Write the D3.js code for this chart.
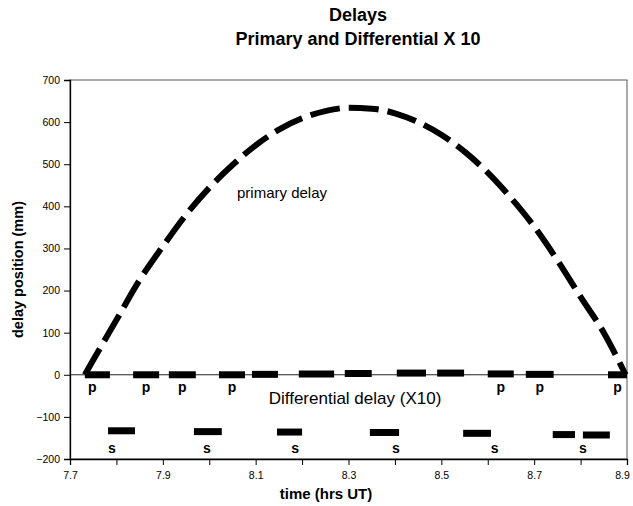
<!DOCTYPE html>
<html>
<head>
<meta charset="utf-8">
<script src="https://cdn.jsdelivr.net/npm/d3@7"></script>
<style>
  body { margin: 0; background: #fff; }
  svg { font-family: "Liberation Sans", Arial, sans-serif; }
</style>
</head>
<body>
<svg id="chart" width="633" height="506"></svg>
<script>
// primary delay curve
const primaryTime = [7.732, 7.75, 7.80, 7.85, 7.90, 7.95, 8.00, 8.05, 8.10, 8.15, 8.20, 8.25, 8.30,
  8.35, 8.40, 8.45, 8.50, 8.55, 8.60, 8.65, 8.70, 8.75, 8.80, 8.85, 8.897];
const primaryDelay = [0, 35, 130, 225, 305, 380, 444, 498, 545, 582, 609, 626, 634,
  632, 621, 600, 570, 530, 480, 420, 352, 272, 185, 100, 0];

// differential delay (X10) segments, "p" marks
const diffStart = [7.732, 7.836, 7.913, 8.021, 8.092, 8.193, 8.292, 8.404, 8.491, 8.600, 8.682, 8.859];
const diffEnd   = [7.786, 7.892, 7.971, 8.077, 8.148, 8.269, 8.350, 8.467, 8.549, 8.656, 8.742, 8.900];
const diffValue = [0, 0, 0, 0, 1, 2, 3, 4, 4, 2, 1, 0];
const diffMark  = ["p", "p", "p", "p", "", "", "", "", "", "p", "p", "p"];

// secondary "s" segments
const secStart = [7.782, 7.967, 8.146, 8.346, 8.547, 8.740, 8.805];
const secEnd   = [7.840, 8.027, 8.200, 8.409, 8.607, 8.788, 8.863];
const secValue = [-133, -135, -136, -137, -139, -142, -143];
const secLabelTime = [7.79, 7.995, 8.185, 8.402, 8.615, 8.805];

const xTicks = [7.7, 7.8, 7.9, 8.0, 8.1, 8.2, 8.3, 8.4, 8.5, 8.6, 8.7, 8.8, 8.9];
const xTickLabels = [7.7, 7.9, 8.1, 8.3, 8.5, 8.7, 8.9];
const yTicks = [-200, -100, 0, 100, 200, 300, 400, 500, 600, 700];

const svg = d3.select("#chart");
const plotLeft = 70, plotRight = 627, plotTop = 80, plotBottom = 459;

const x = d3.scaleLinear().domain([7.7, 8.9]).range([plotLeft, plotRight]);
const y = d3.scaleLinear().domain([-200, 700]).range([plotBottom, plotTop]);

// frame
svg.append("rect")
  .attr("x", plotLeft).attr("y", plotTop)
  .attr("width", plotRight - plotLeft).attr("height", plotBottom - plotTop)
  .attr("fill", "none").attr("stroke", "#555").attr("stroke-width", 1);

// zero line
svg.append("line")
  .attr("x1", plotLeft).attr("x2", plotRight)
  .attr("y1", y(0)).attr("y2", y(0))
  .attr("stroke", "#222").attr("stroke-width", 1);

// axes
const yAxis = d3.axisLeft(y).tickValues(yTicks).tickSize(6).tickPadding(4).tickFormat(d3.format("d"));
const gy = svg.append("g").attr("transform", `translate(${plotLeft},0)`).call(yAxis);
gy.selectAll("text").attr("font-size", 10.5).attr("fill", "#000");
gy.select(".domain").attr("stroke", "#000").attr("stroke-width", 1.3);

const xAxis = d3.axisBottom(x).tickValues(xTicks).tickSize(6).tickPadding(7)
  .tickFormat(d => xTickLabels.some(v => Math.abs(v - d) < 1e-6) ? d3.format(".1f")(d) : "");
const gx = svg.append("g").attr("transform", `translate(0,${plotBottom})`).call(xAxis);
gx.selectAll("text").attr("font-size", 10.5).attr("fill", "#000")
  .attr("dx", d => Math.abs(d - 8.9) < 1e-6 ? -5 : 0);
gx.select(".domain").attr("stroke", "#000").attr("stroke-width", 1.3);

// primary delay
const line = d3.line()
  .x((d, i) => x(primaryTime[i]))
  .y(d => y(d))
  .curve(d3.curveMonotoneX);

svg.append("path")
  .attr("d", line(primaryDelay))
  .attr("fill", "none")
  .attr("stroke", "#000")
  .attr("stroke-width", 6)
  .attr("stroke-dasharray", "30,9");

// differential segments
svg.append("g").selectAll("line").data(diffStart).join("line")
  .attr("x1", d => x(d))
  .attr("x2", (d, i) => x(diffEnd[i]))
  .attr("y1", (d, i) => y(diffValue[i]))
  .attr("y2", (d, i) => y(diffValue[i]))
  .attr("stroke", "#000").attr("stroke-width", 7);

svg.append("g").selectAll("text").data(diffStart).join("text")
  .attr("x", (d, i) => x((d + diffEnd[i]) / 2) - (i === 0 ? 5 : 0))
  .attr("y", y(0) + 17)
  .attr("text-anchor", "middle")
  .attr("font-size", 14).attr("font-weight", "bold")
  .text((d, i) => diffMark[i]);

// s segments
svg.append("g").selectAll("line").data(secStart).join("line")
  .attr("x1", d => x(d))
  .attr("x2", (d, i) => x(secEnd[i]))
  .attr("y1", (d, i) => y(secValue[i]))
  .attr("y2", (d, i) => y(secValue[i]))
  .attr("stroke", "#000").attr("stroke-width", 7);

svg.append("g").selectAll("text").data(secLabelTime).join("text")
  .attr("x", d => x(d))
  .attr("y", 453)
  .attr("text-anchor", "middle")
  .attr("font-size", 14).attr("font-weight", "bold")
  .text("s");

// annotations
svg.append("text").attr("x", 282).attr("y", 198)
  .attr("text-anchor", "middle").attr("font-size", 15)
  .text("primary delay");

svg.append("text").attr("x", 355).attr("y", 404)
  .attr("text-anchor", "middle").attr("font-size", 17)
  .text("Differential delay (X10)");

// titles
svg.append("text").attr("x", 358).attr("y", 21)
  .attr("text-anchor", "middle").attr("font-size", 18).attr("font-weight", "bold")
  .text("Delays");
svg.append("text").attr("x", 358).attr("y", 45)
  .attr("text-anchor", "middle").attr("font-size", 18).attr("font-weight", "bold")
  .text("Primary and Differential X 10");

svg.append("text").attr("x", 326).attr("y", 499)
  .attr("text-anchor", "middle").attr("font-size", 15).attr("font-weight", "bold")
  .text("time (hrs UT)");

svg.append("text")
  .attr("transform", `translate(23,${(plotTop + plotBottom) / 2}) rotate(-90)`)
  .attr("text-anchor", "middle").attr("font-size", 14.5).attr("font-weight", "bold")
  .text("delay position (mm)");
</script>
</body>
</html>
